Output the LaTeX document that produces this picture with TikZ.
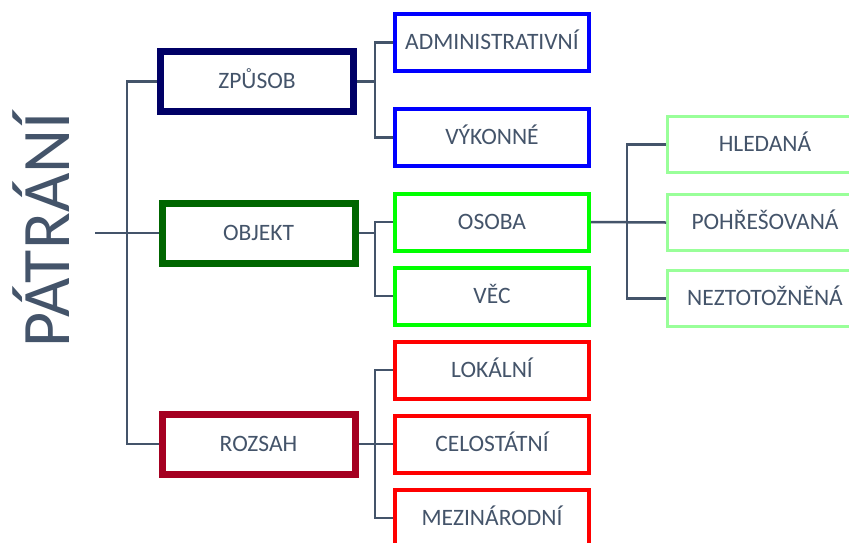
\documentclass[tikz,border=0pt]{standalone}
\usepackage{fontspec}
\setmainfont{Carlito}
\definecolor{txt}{HTML}{44546A}
\definecolor{navyb}{HTML}{000066}
\definecolor{dgreen}{HTML}{006600}
\definecolor{maroonb}{HTML}{A50021}
\definecolor{blueb}{HTML}{0000FF}
\definecolor{greenb}{HTML}{00FF00}
\definecolor{redb}{HTML}{FF0000}
\definecolor{lgreen}{HTML}{99FF99}
\tikzset{
  capbox/.style={inner sep=0pt, text=txt, text height=14.8pt, text depth=0pt, fill=white},
  lvlone/.style={capbox, draw=#1, line width=7pt, minimum width=193pt, minimum height=60pt, font=\fontsize{23.5}{27}\selectfont},
  lvltwo/.style={capbox, draw=#1, line width=4pt, minimum width=194pt, minimum height=57pt, font=\fontsize{23.5}{27}\selectfont},
  lvlthree/.style={capbox, draw=lgreen, line width=3pt, minimum width=235pt, minimum height=56pt, font=\fontsize{23.5}{27}\selectfont},
  conn/.style={draw=txt, line width=2.5pt}
}
\newcommand{\padr}[1]{#1\kern40pt\relax}
\begin{document}
\begin{tikzpicture}[x=1pt,y=-1pt]
\useasboundingbox (0,0) rectangle (849,542);
\begin{scope}
\clip (0,0) rectangle (849,542);
% title
\node[rotate=90, anchor=base, text=txt, font=\fontsize{68}{70}\selectfont, inner sep=0pt] (title) at (69,230) {PÁTRÁNÍ};
% level 1
\node[lvlone=navyb] (zpusob) at (257,81.5) {ZPŮSOB};
\node[lvlone=dgreen] (objekt) at (258.5,233) {OBJEKT};
\node[lvlone=maroonb] (rozsah) at (258.5,444) {ROZSAH};
% level 2
\node[lvltwo=blueb] (admin) at (492,42.5) {ADMINISTRATIVNÍ};
\node[lvltwo=blueb] (vykonne) at (492,137.5) {VÝKONNÉ};
\node[lvltwo=greenb] (osoba) at (492,222) {OSOBA};
\node[lvltwo=greenb] (vec) at (492,296) {VĚC};
\node[lvltwo=redb] (lokalni) at (492,370) {LOKÁLNÍ};
\node[lvltwo=redb] (celost) at (492,444) {CELOSTÁTNÍ};
\node[lvltwo=redb] (mezin) at (492,518) {MEZINÁRODNÍ};
% level 3 (cut off at the right edge)
\node[lvlthree] (hledana) at (785,144.5) {\padr{HLEDANÁ}};
\node[lvlthree] (pohres) at (785,222.5) {\padr{POHŘEŠOVANÁ}};
\node[lvlthree] (neztot) at (785,298.5) {\padr{NEZTOTOŽNĚNÁ}};
% junctions
\coordinate (root) at (95,233);
\coordinate (trunk) at (127,233);
\coordinate (b1) at (375,81.5);
\coordinate (b2) at (375,233);
\coordinate (b3) at (375,444);
\coordinate (b4) at (627,222);
% connectors
\draw[conn] (root) -- (objekt.west);
\draw[conn] (zpusob.west) -| (trunk) |- (rozsah.west);
\draw[conn] (zpusob.east) -- (b1);
\draw[conn] (admin.west) -| (b1) |- (vykonne.west);
\draw[conn] (objekt.east) -- (b2);
\draw[conn] (osoba.west) -| (b2) |- (vec.west);
\draw[conn] (rozsah.east) -- (celost.west);
\draw[conn] (lokalni.west) -| (b3) |- (mezin.west);
\draw[conn] (osoba.east) -- (pohres.west);
\draw[conn] (hledana.west) -| (b4) |- (neztot.west);
\end{scope}
\end{tikzpicture}
\end{document}
